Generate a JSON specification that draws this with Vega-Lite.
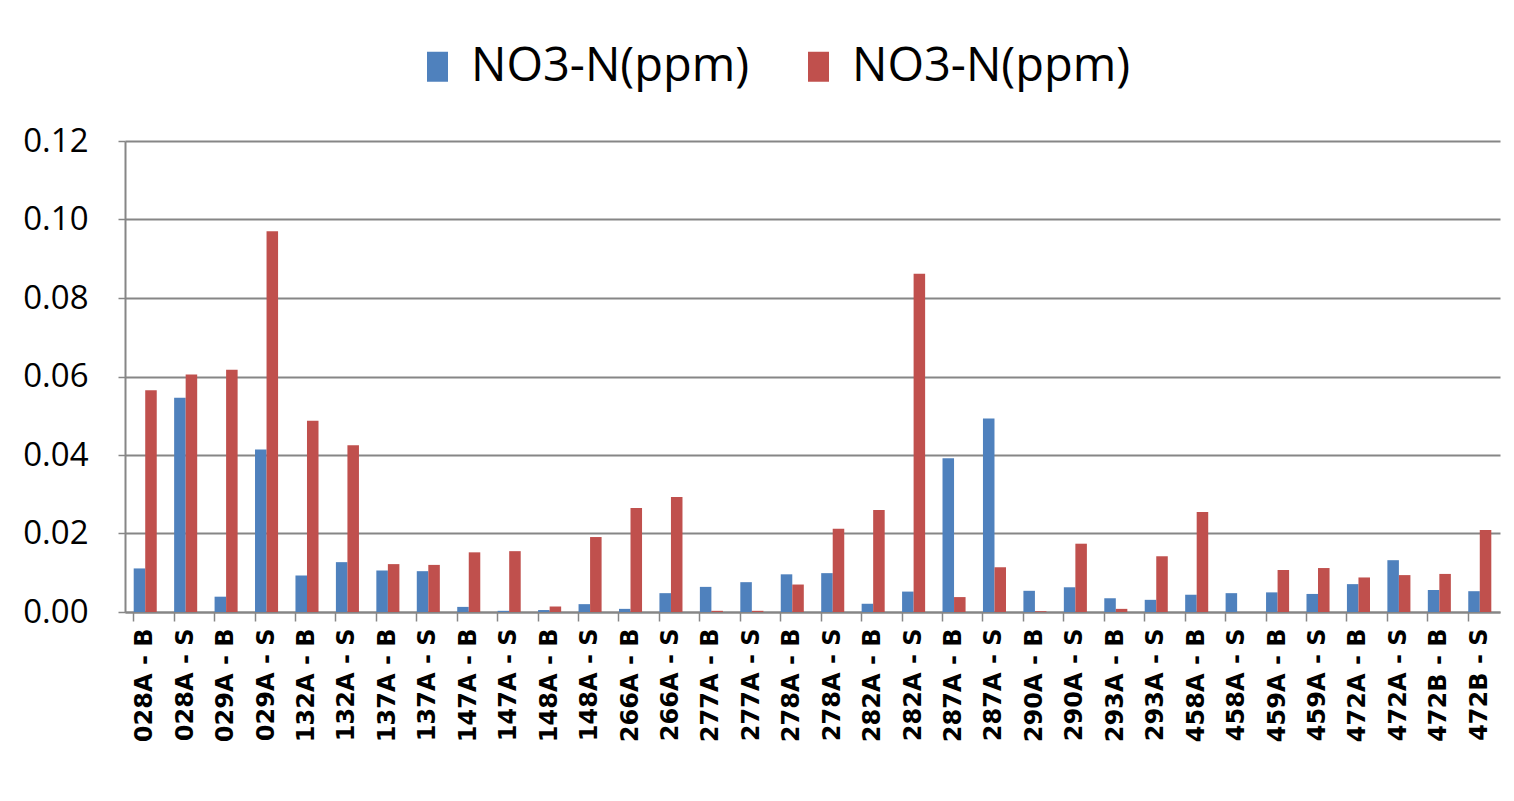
{
  "$schema": "https://vega.github.io/schema/vega-lite/v6.json",
  "autosize": "none",
  "width": 1375,
  "height": 471,
  "padding": {"left": 125, "top": 141, "right": 14, "bottom": 189},
  "background": "white",
  "config": {"view": {"stroke": null}, "font": "Open Sans"},
  "data": {
    "values": [
      {"site": "028A - B", "series": "s1", "value": 0.0111},
      {"site": "028A - B", "series": "s2", "value": 0.0565},
      {"site": "028A - S", "series": "s1", "value": 0.0546},
      {"site": "028A - S", "series": "s2", "value": 0.0605},
      {"site": "029A - B", "series": "s1", "value": 0.0039},
      {"site": "029A - B", "series": "s2", "value": 0.0617},
      {"site": "029A - S", "series": "s1", "value": 0.0414},
      {"site": "029A - S", "series": "s2", "value": 0.0970},
      {"site": "132A - B", "series": "s1", "value": 0.0093},
      {"site": "132A - B", "series": "s2", "value": 0.0487},
      {"site": "132A - S", "series": "s1", "value": 0.0127},
      {"site": "132A - S", "series": "s2", "value": 0.0425},
      {"site": "137A - B", "series": "s1", "value": 0.0106},
      {"site": "137A - B", "series": "s2", "value": 0.0122},
      {"site": "137A - S", "series": "s1", "value": 0.0104},
      {"site": "137A - S", "series": "s2", "value": 0.0120},
      {"site": "147A - B", "series": "s1", "value": 0.0013},
      {"site": "147A - B", "series": "s2", "value": 0.0152},
      {"site": "147A - S", "series": "s1", "value": 0.0003},
      {"site": "147A - S", "series": "s2", "value": 0.0155},
      {"site": "148A - B", "series": "s1", "value": 0.0005},
      {"site": "148A - B", "series": "s2", "value": 0.0014},
      {"site": "148A - S", "series": "s1", "value": 0.0020},
      {"site": "148A - S", "series": "s2", "value": 0.0191},
      {"site": "266A - B", "series": "s1", "value": 0.0008},
      {"site": "266A - B", "series": "s2", "value": 0.0265},
      {"site": "266A - S", "series": "s1", "value": 0.0048},
      {"site": "266A - S", "series": "s2", "value": 0.0293},
      {"site": "277A - B", "series": "s1", "value": 0.0064},
      {"site": "277A - B", "series": "s2", "value": 0.0003},
      {"site": "277A - S", "series": "s1", "value": 0.0076},
      {"site": "277A - S", "series": "s2", "value": 0.0003},
      {"site": "278A - B", "series": "s1", "value": 0.0096},
      {"site": "278A - B", "series": "s2", "value": 0.0070},
      {"site": "278A - S", "series": "s1", "value": 0.0099},
      {"site": "278A - S", "series": "s2", "value": 0.0212},
      {"site": "282A - B", "series": "s1", "value": 0.0021},
      {"site": "282A - B", "series": "s2", "value": 0.0260},
      {"site": "282A - S", "series": "s1", "value": 0.0052},
      {"site": "282A - S", "series": "s2", "value": 0.0862},
      {"site": "287A - B", "series": "s1", "value": 0.0392},
      {"site": "287A - B", "series": "s2", "value": 0.0038},
      {"site": "287A - S", "series": "s1", "value": 0.0493},
      {"site": "287A - S", "series": "s2", "value": 0.0114},
      {"site": "290A - B", "series": "s1", "value": 0.0054},
      {"site": "290A - B", "series": "s2", "value": 0.0002},
      {"site": "290A - S", "series": "s1", "value": 0.0063},
      {"site": "290A - S", "series": "s2", "value": 0.0174},
      {"site": "293A - B", "series": "s1", "value": 0.0035},
      {"site": "293A - B", "series": "s2", "value": 0.0008},
      {"site": "293A - S", "series": "s1", "value": 0.0031},
      {"site": "293A - S", "series": "s2", "value": 0.0142},
      {"site": "458A - B", "series": "s1", "value": 0.0044},
      {"site": "458A - B", "series": "s2", "value": 0.0255},
      {"site": "458A - S", "series": "s1", "value": 0.0048},
      {"site": "458A - S", "series": "s2", "value": 0.0},
      {"site": "459A - B", "series": "s1", "value": 0.0050},
      {"site": "459A - B", "series": "s2", "value": 0.0107},
      {"site": "459A - S", "series": "s1", "value": 0.0046},
      {"site": "459A - S", "series": "s2", "value": 0.0112},
      {"site": "472A - B", "series": "s1", "value": 0.0071},
      {"site": "472A - B", "series": "s2", "value": 0.0088},
      {"site": "472A - S", "series": "s1", "value": 0.0132},
      {"site": "472A - S", "series": "s2", "value": 0.0094},
      {"site": "472B - B", "series": "s1", "value": 0.0056},
      {"site": "472B - B", "series": "s2", "value": 0.0097},
      {"site": "472B - S", "series": "s1", "value": 0.0053},
      {"site": "472B - S", "series": "s2", "value": 0.0209}
    ]
  },
  "mark": {"type": "bar"},
  "encoding": {
    "x": {
      "field": "site",
      "type": "nominal",
      "sort": null,
      "scale": {"paddingInner": 0.43, "paddingOuter": 0.215},
      "axis": {
        "title": null,
        "labelAngle": -90,
        "labelAlign": "right",
        "labelBaseline": "middle",
        "labelFont": "DejaVu Sans",
        "labelFontWeight": "bold",
        "labelFontSize": 24,
        "labelColor": "black",
        "labelPadding": 7,
        "bandPosition": 0,
        "tickSize": 9,
        "tickColor": "#868686",
        "tickWidth": 1.5,
        "domainColor": "#868686",
        "domainWidth": 2
      }
    },
    "xOffset": {"field": "series", "type": "nominal", "scale": {"paddingInner": 0, "paddingOuter": 0}},
    "y": {
      "field": "value",
      "type": "quantitative",
      "scale": {"domain": [0, 0.12], "nice": false},
      "axis": {
        "title": null,
        "values": [0, 0.02, 0.04, 0.06, 0.08, 0.1, 0.12],
        "format": ".2f",
        "labelFont": "Open Sans",
        "labelFontSize": 33,
        "labelColor": "black",
        "labelPadding": 30,
        "tickSize": 7,
        "tickColor": "#868686",
        "tickWidth": 1.5,
        "domainColor": "#868686",
        "domainWidth": 2,
        "gridColor": "#868686",
        "gridWidth": 2
      }
    },
    "color": {
      "field": "series",
      "type": "nominal",
      "scale": {"domain": ["s1", "s2"], "range": ["#4F81BD", "#C0504D"]},
      "legend": {
        "title": null,
        "orient": "none",
        "legendX": 289,
        "legendY": -98,
        "direction": "horizontal",
        "labelExpr": "'NO3-N(ppm)'",
        "labelFont": "Open Sans",
        "labelFontSize": 47,
        "labelLimit": 0,
        "labelColor": "black",
        "labelOffset": 10,
        "columnPadding": 45,
        "padding": 0,
        "symbolType": "M-0.7,-1H0.7V1H-0.7Z",
        "symbolSize": 900,
        "symbolStrokeWidth": 0
      }
    }
  }
}
